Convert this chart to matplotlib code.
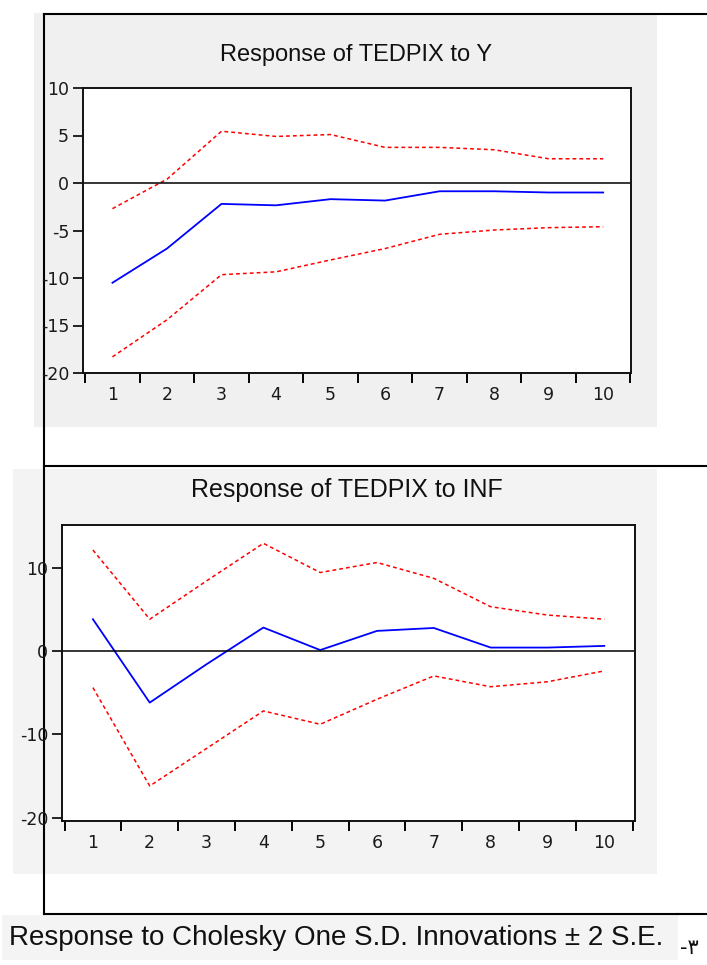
import matplotlib
matplotlib.use("Agg")
import matplotlib.pyplot as plt
from matplotlib.patches import Rectangle
from matplotlib.lines import Line2D

W, H = 707, 965

periods = [1, 2, 3, 4, 5, 6, 7, 8, 9, 10]
period_labels = ["1", "2", "3", "4", "5", "6", "7", "8", "9", "10"]

# Response of TEDPIX to Y
y_resp = [-10.5, -6.9, -2.2, -2.35, -1.7, -1.85, -0.87, -0.87, -1.0, -1.0]
y_upper = [-2.7, 0.4, 5.45, 4.9, 5.1, 3.75, 3.75, 3.5, 2.55, 2.55]
y_lower = [-18.3, -14.4, -9.65, -9.35, -8.1, -6.9, -5.4, -4.95, -4.7, -4.6]
y_yticks = [10, 5, 0, -5, -10, -15, -20]

# Response of TEDPIX to INF
inf_resp = [3.8, -6.2, -1.6, 2.8, 0.1, 2.4, 2.75, 0.4, 0.4, 0.6]
inf_upper = [12.1, 3.8, 8.4, 12.9, 9.4, 10.6, 8.7, 5.3, 4.3, 3.8]
inf_lower = [-4.4, -16.2, -11.7, -7.2, -8.8, -5.8, -3.0, -4.3, -3.7, -2.4]
inf_yticks = [10, 0, -10, -20]

caption = "Response to Cholesky One S.D. Innovations \u00b1 2 S.E."
side_note = "-\u0663"

fig = plt.figure(figsize=(W / 100, H / 100), dpi=100)
fig.patch.set_facecolor("white")


def frac_rect(x0, y0, x1, y1):
    return [x0 / W, 1 - y1 / H, (x1 - x0) / W, (y1 - y0) / H]


def add_bg(x0, y0, x1, y1, color):
    fig.patches.append(Rectangle((x0 / W, 1 - y1 / H), (x1 - x0) / W, (y1 - y0) / H,
                                 transform=fig.transFigure, facecolor=color,
                                 edgecolor="none", zorder=0))


def add_line(xs, ys, lw=1.5):
    fig.lines.append(Line2D([x / W for x in xs], [1 - y / H for y in ys],
                            transform=fig.transFigure, color="black", lw=lw, zorder=1))


# panel backgrounds
add_bg(34, 13, 657, 427, "#f0f0f0")
add_bg(13, 469, 657, 874, "#f3f3f3")
add_bg(2, 915, 678, 960, "#f4f4f4")

# page frame lines
add_line([44, 707], [14, 14])
add_line([44, 44], [14, 914])
add_line([44, 707], [466, 466])
add_line([44, 678], [914, 914])
add_line([678, 707], [914, 914])


def panel(rect, title, title_y, title_x, resp, upper, lower, yticks, ylim, xlim, title_size):
    ax = fig.add_axes(frac_rect(*rect))
    ax.set_facecolor("white")
    ax.set_zorder(2)
    ax.plot(periods, upper, color="#ff0000", lw=1.1, linestyle=(0, (2.5, 2)))
    ax.plot(periods, lower, color="#ff0000", lw=1.1, linestyle=(0, (2.5, 2)))
    ax.plot(periods, resp, color="#0000ff", lw=1.3)
    ax.axhline(0, color="black", lw=1.1)
    ax.set_xlim(*xlim)
    ax.set_ylim(*ylim)
    ax.set_yticks(yticks)
    ax.set_yticklabels([str(v) for v in yticks])
    ax.set_xticks([p - 0.5 for p in periods] + [periods[-1] + 0.5])
    ax.set_xticklabels([])
    ax.set_xticks(periods, minor=True)
    ax.set_xticklabels(period_labels, minor=True)
    ax.tick_params(axis="x", which="major", direction="out", length=7, width=1.4,
                   color="black")
    ax.tick_params(axis="x", which="minor", length=0, pad=9.5, labelsize=12.5,
                   labelcolor="#1a1a1a")
    ax.tick_params(axis="y", direction="out", length=7, width=1.2, pad=3,
                   labelsize=12.5, labelcolor="#1a1a1a")
    for s in ax.spines.values():
        s.set_linewidth(1.4)
        s.set_color("#111111")
    fig.text(title_x / W, 1 - title_y / H, title, ha="center", va="center",
             fontsize=title_size, family="Liberation Sans", color="#111111")
    return ax


panel((83, 88, 631, 373), "Response of TEDPIX to Y", 55, 356,
      y_resp, y_upper, y_lower, y_yticks, (-20, 10), (0.46, 10.51), 17)
panel((62, 525, 635, 821), "Response of TEDPIX to INF", 490, 347,
      inf_resp, inf_upper, inf_lower, inf_yticks, (-20.4, 15.1), (0.456, 10.54), 18)

fig.text(9 / W, 1 - 945 / H, caption, ha="left", va="baseline", fontsize=20,
         family="Liberation Sans", color="#111111")
fig.text(680 / W, 1 - 954 / H, side_note, ha="left", va="baseline", fontsize=15,
         family=["DejaVu Sans"], color="#111111")

fig.savefig("out.png", dpi=100, facecolor="white")
